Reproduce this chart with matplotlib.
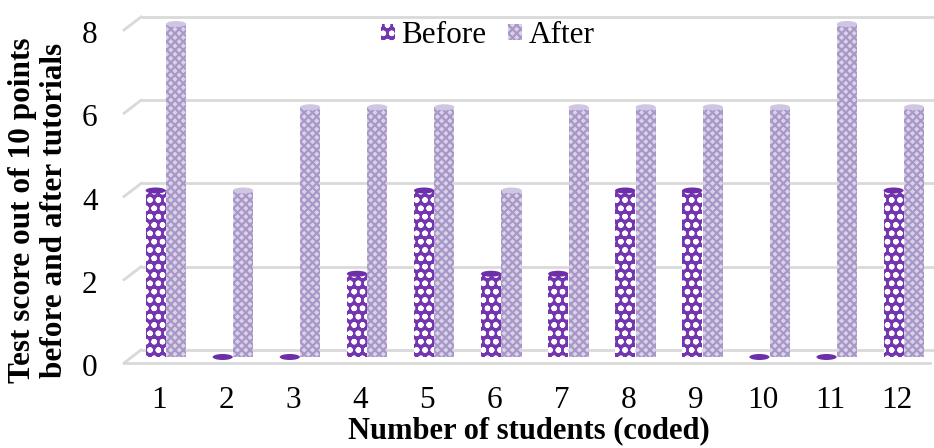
import numpy as np
import matplotlib.pyplot as plt
from matplotlib.patches import Ellipse
from matplotlib.transforms import ScaledTranslation, blended_transform_factory

students = [1, 2, 3, 4, 5, 6, 7, 8, 9, 10, 11, 12]
before = [4, 0, 0, 2, 4, 2, 2, 4, 4, 0, 0, 4]
after = [8, 4, 6, 6, 6, 4, 6, 6, 6, 6, 8, 6]
yticks = [0, 2, 4, 6, 8]

plt.rcParams['font.family'] = ['Liberation Serif', 'DejaVu Serif']
plt.rcParams['hatch.linewidth'] = 1.6

fig = plt.figure(figsize=(9.34, 4.48), dpi=100)
W, H = 934, 448
# axes in pixels: left 124, right 934, data 0 at 357 px and data 8 at 24 px from the top
ax = fig.add_axes([124 / W, (H - 357) / H, 810 / W, 333 / H])
step = 67.1
ax.set_xlim(1 - 42 / step, 12 + 30 / step)
ax.set_ylim(0, 8)
for s in ax.spines.values():
    s.set_visible(False)

def px(dx, dy):
    return ScaledTranslation(dx / 100, dy / 100, fig.dpi_scale_trans)

upp = 8 / 333  # data units per pixel
bt = blended_transform_factory(ax.transAxes, ax.transData)
grid_col = '#d9d9d9'
x_back = 17 / 810
for v in yticks:
    ax.plot([x_back, 1], [v + 7 * upp] * 2, color=grid_col, lw=2, transform=bt, zorder=0,
            solid_capstyle='butt', clip_on=False)
    ax.plot([0, x_back], [v - 6 * upp, v + 7 * upp], color=grid_col, lw=2, transform=bt,
            zorder=0, clip_on=False)
ax.plot([0, (930 - 124) / 810], [-6 * upp] * 2, color=grid_col, lw=2, transform=bt,
        zorder=0, clip_on=False)

x = np.array(students)
w = 0.30
c_before = '#7436b0'
c_after = '#dbd2ea'
ax.bar(x - 0.155, before, w, color=c_before, hatch='oo', edgecolor='white', lw=0,
       label='Before', zorder=2, clip_on=False)
ax.bar(x + 0.15, after, w, color=c_after, hatch='xxxx', edgecolor='#a898c8', lw=0,
       label='After', zorder=2, clip_on=False)
for xi, v in zip(x, before):
    ax.add_patch(Ellipse((xi - 0.155, v), w, 6 * upp, facecolor='#6e2eaa',
                         edgecolor='none', zorder=3, clip_on=False))
for xi, v in zip(x, after):
    ax.add_patch(Ellipse((xi + 0.15, v), w, 6 * upp, facecolor='#d0c6e4',
                         edgecolor='none', zorder=3, clip_on=False))

ax.set_xticks(x)
ax.set_xticklabels([str(s) for s in students])
ax.set_yticks(yticks)
ax.set_yticklabels([str(v) for v in yticks])
ax.tick_params(length=0, labelsize=22.5)
ax.tick_params(axis='x', pad=21)
ax.tick_params(axis='y', pad=19)
for lab in ax.get_yticklabels():
    lab.set_transform(lab.get_transform() + px(0, -8))
for lab in ax.get_xticklabels():
    lab.set_transform(lab.get_transform() + px(-7, 0))

ax.set_xlabel('Number of students (coded)', fontsize=22, fontweight='bold', labelpad=1)
fig.text(0.041, 0.531, 'Test score out of 10 points\nbefore and after tutorials',
         rotation=90, ha='center', va='center', fontsize=22.5, fontweight='bold',
         linespacing=1.15)

ax.legend(loc='center', bbox_to_anchor=(0.449, 0.965), ncol=2, frameon=False,
          fontsize=22.5, handlelength=0.45, handleheight=0.45, handletextpad=0.2,
          columnspacing=0.7, borderpad=0)

fig.savefig('out.png', dpi=100)
